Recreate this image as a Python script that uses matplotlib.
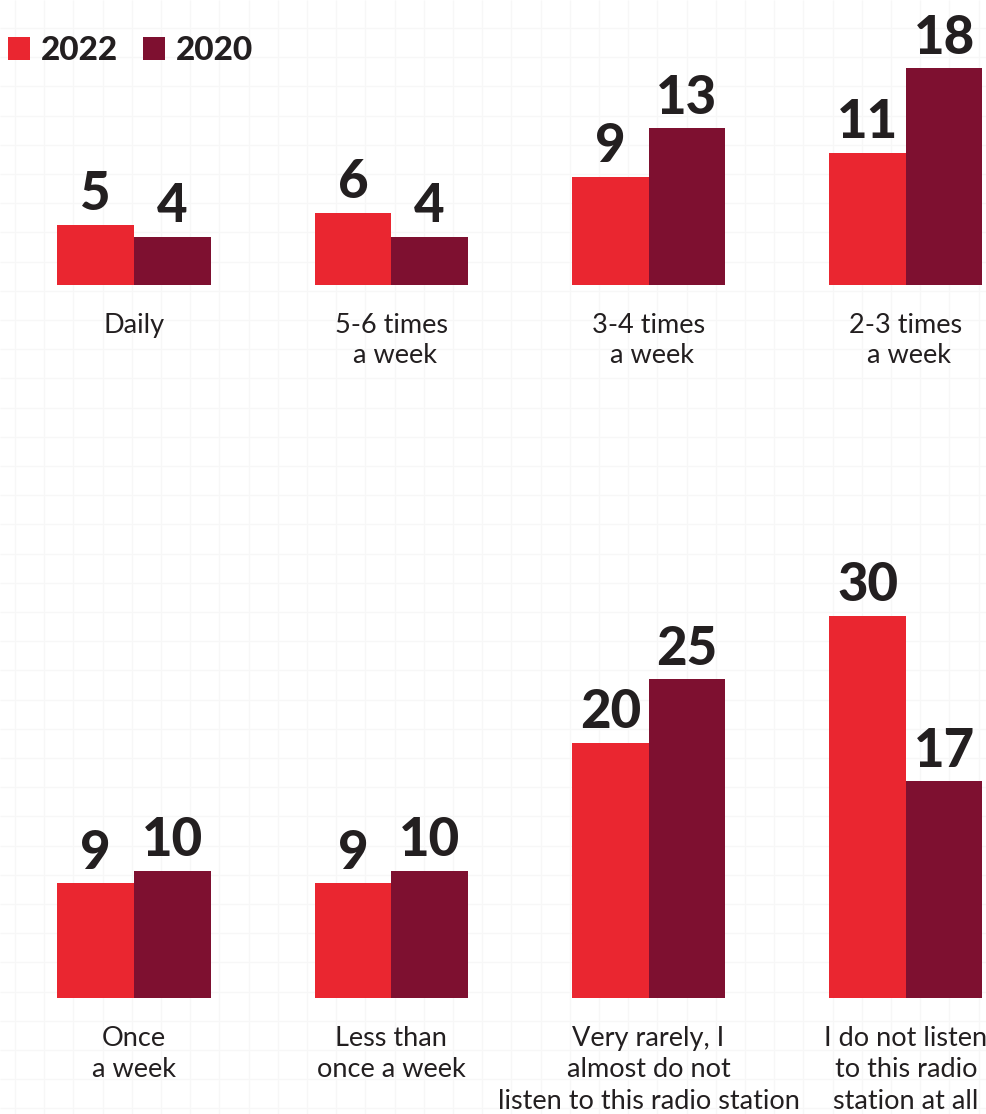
import matplotlib.pyplot as plt
import numpy as np

# Data
top_cats = ['Daily', '5-6 times\n a week', '3-4 times\n a week', '2-3 times\n a week']
top_2022 = [5, 6, 9, 11]
top_2020 = [4, 4, 13, 18]

bottom_cats = ['Once\na week', 'Less than\nonce a week',
               'Very rarely, I\nalmost do not\nlisten to this radio station',
               'I do not listen\nto this radio\nstation at all']
bottom_2022 = [9, 9, 20, 30]
bottom_2020 = [10, 10, 25, 17]

years = ['2022', '2020']
colors = ['#EA2630', '#7E1030']
text_color = '#231F20'

W, H = 986, 1114
fig = plt.figure(figsize=(W / 100, H / 100), dpi=100)

# faint graph-paper background
bg = fig.add_axes([0, 0, 1, 1], zorder=0)
bg.set_xlim(0, W)
bg.set_ylim(H, 0)
bg.vlines(np.arange(15, W, 29.2), 0, H, color='#f7f7f7', lw=0.9)
bg.hlines(np.arange(28, H, 29.2), 0, W, color='#f7f7f7', lw=0.9)
bg.axis('off')

group_px = 257.3
bar_w = 76.5 / group_px
xlim = (-134 / group_px, (W - 134) / group_px)


def draw_row(rect, ymax, cats, v22, v20, spacing):
    ax = fig.add_axes(rect, zorder=1)
    ax.patch.set_alpha(0)
    x = np.arange(len(cats))
    b1 = ax.bar(x - bar_w / 2, v22, bar_w, color=colors[0], label=years[0])
    b2 = ax.bar(x + bar_w / 2, v20, bar_w, color=colors[1], label=years[1])
    for b in (b1, b2):
        ax.bar_label(b, padding=4, fontsize=38, fontweight='black',
                     family=['Lato', 'DejaVu Sans'], color=text_color)
    ax.set_xlim(*xlim)
    ax.set_ylim(0, ymax)
    ax.set_yticks([])
    ax.set_xticks(x)
    ax.set_xticklabels(cats, fontsize=19.5, family=['Lato', 'DejaVu Sans'],
                       color=text_color, linespacing=spacing)
    ax.tick_params(axis='x', length=0, pad=20)
    for s in ax.spines.values():
        s.set_visible(False)
    return ax, b1, b2


ax1, h1, h2 = draw_row([0, (H - 285) / H, 1, 285 / H], 285 / 12.04,
                       top_cats, top_2022, top_2020, 1.27)
ax2, _, _ = draw_row([0, (H - 998) / H, 1, 500 / H], 500 / 12.75,
                     bottom_cats, bottom_2022, bottom_2020, 1.33)

fig.legend(handles=[h1, h2], labels=years, loc='center left',
           bbox_to_anchor=(8 / W, 1 - 50.5 / H), ncol=2, frameon=False,
           borderpad=0, borderaxespad=0, handlelength=0.66, handleheight=0.66,
           handletextpad=0.32, columnspacing=0.75,
           prop={'family': ['Lato', 'DejaVu Sans'], 'weight': 'black', 'size': 24})
for t in fig.legends[0].get_texts():
    t.set_color(text_color)

fig.savefig('out.png', dpi=100, facecolor='white')
